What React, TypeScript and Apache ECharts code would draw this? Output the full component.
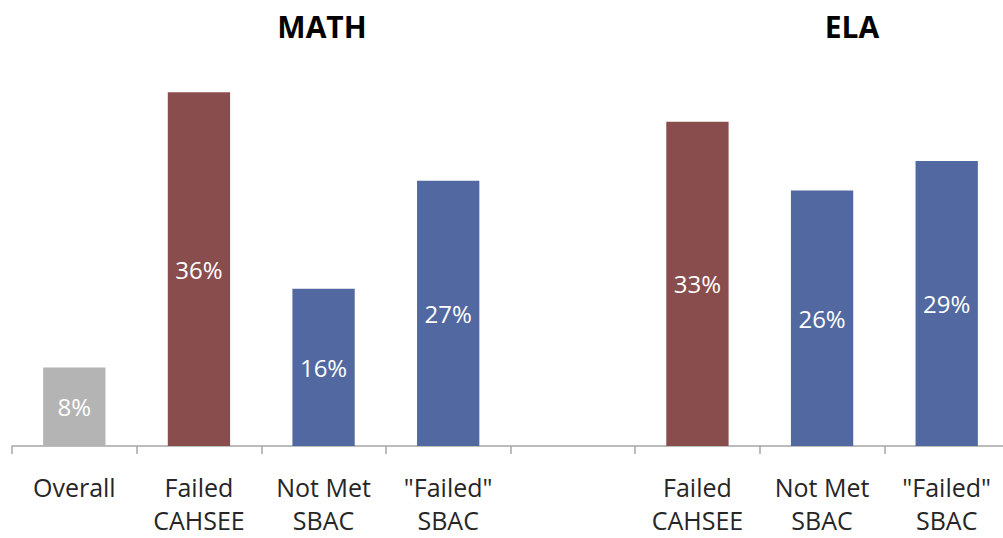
import React, { useEffect, useRef } from "react";
import * as echarts from "echarts";

const categories = [
  "Overall",
  "Failed\nCAHSEE",
  "Not Met\nSBAC",
  "\"Failed\"\nSBAC",
  "",
  "Failed\nCAHSEE",
  "Not Met\nSBAC",
  "\"Failed\"\nSBAC",
];
const values: (number | string)[] = [8, 36, 16, 27, "-", 33, 26, 29];
const barColors = ["#B4B4B4", "#8A4D4D", "#5169A0", "#5169A0", "#5169A0", "#8A4D4D", "#5169A0", "#5169A0"];
const groupTitles = ["MATH", "ELA"];

export default function App() {
  const ref = useRef<HTMLDivElement>(null);
  useEffect(() => {
    if (!ref.current) return;
    const chart = echarts.init(ref.current, undefined, { renderer: "svg" });
    const font = "'Open Sans', sans-serif";
    chart.setOption({
      animation: false,
      backgroundColor: "#ffffff",
      grid: { left: 12, top: 53, width: 997, height: 393 },
      graphic: [
        {
          type: "text",
          x: 322,
          y: 26,
          style: {
            text: groupTitles[0],
            font: `bold 30px ${font}`,
            fill: "#000000",
            textAlign: "center",
            textVerticalAlign: "middle",
          },
        },
        {
          type: "text",
          x: 852,
          y: 26,
          style: {
            text: groupTitles[1],
            font: `bold 30px ${font}`,
            fill: "#000000",
            textAlign: "center",
            textVerticalAlign: "middle",
          },
        },
      ],
      xAxis: {
        type: "category",
        data: categories,
        axisLine: { lineStyle: { color: "#A6A6A6", width: 1.5 } },
        axisTick: { show: true, length: 8, lineStyle: { color: "#A6A6A6", width: 1.5 } },
        axisLabel: {
          color: "#262626",
          fontFamily: font,
          fontSize: 25,
          lineHeight: 33,
          margin: 24,
          interval: 0,
        },
      },
      yAxis: {
        type: "value",
        min: 0,
        max: 40,
        show: false,
        splitLine: { show: false },
      },
      series: [
        {
          type: "bar",
          barWidth: "50%",
          data: values.map((v, i) => ({ value: v, itemStyle: { color: barColors[i] } })),
          label: {
            show: true,
            position: "inside",
            formatter: "{c}%",
            color: "#ffffff",
            fontFamily: font,
            fontSize: 24,
          },
        },
      ],
    });
    return () => chart.dispose();
  }, []);
  return (
    <div style={{ position: "fixed", left: 0, top: 0, width: 1003, height: 538, overflow: "hidden", background: "#fff" }}>
      <div ref={ref} style={{ width: 1010, height: 538 }} />
    </div>
  );
}
